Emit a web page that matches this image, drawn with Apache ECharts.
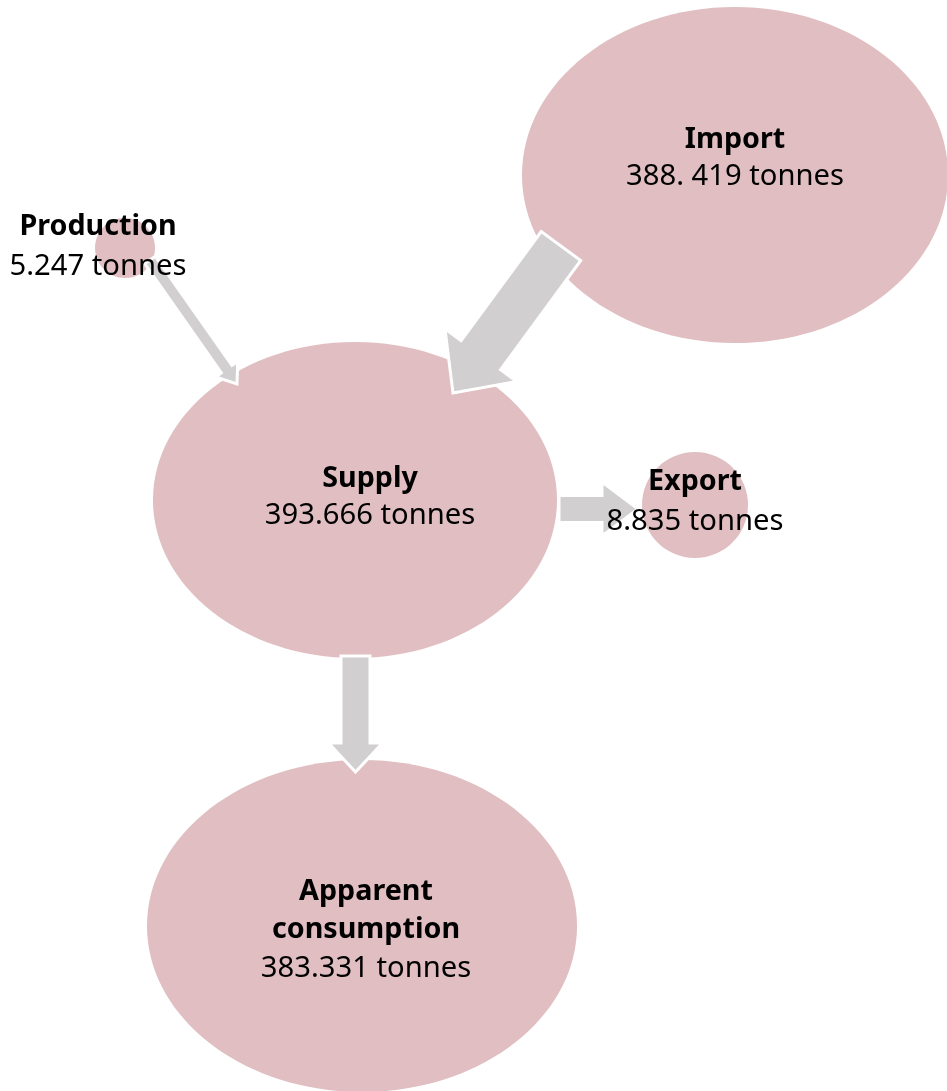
<!DOCTYPE html>
<html><head><meta charset="utf-8">
<script src="https://cdn.jsdelivr.net/npm/echarts@6/dist/echarts.min.js"></script>
<style>html,body{margin:0;padding:0;background:#fff}#c{width:947px;height:1091px}</style>
</head><body><div id="c"></div>
<script>
// ---- data ----
const nodeNames = ['Production', 'Import', 'Supply', 'Export', 'Apparent\nconsumption'];
const nodeValues = [5247, 388419, 393666, 8835, 383331];
const valueLabels = ['5.247 tonnes', '388. 419 tonnes', '393.666 tonnes', '8.835 tonnes', '383.331 tonnes'];
const flowFrom = ['Production', 'Import', 'Supply', 'Supply'];
const flowTo = ['Supply', 'Supply', 'Export', 'Apparent\nconsumption'];
const flowValues = [5247, 388419, 8835, 383331];

// ---- layout (pixel space of the 947x1091 canvas) ----
const nodeLayout = {
  'Production': {cx: 125, cy: 248, rx: 30, ry: 30, lx: 98, ly: [225], vy: 265},
  'Import': {cx: 735, cy: 175, rx: 213, ry: 168, lx: 735, ly: [137.5], vy: 175},
  'Supply': {cx: 355, cy: 500, rx: 202, ry: 158, lx: 370, ly: [476.5], vy: 514},
  'Export': {cx: 695, cy: 505, rx: 53, ry: 53, lx: 695, ly: [479.5], vy: 520},
  'Apparent\nconsumption': {cx: 362, cy: 926, rx: 215, ry: 166, lx: 366, ly: [890, 928], vy: 966.5}
};
const arrowLayout = [
  {x0: 150, y0: 260, x1: 237, y1: 384, sw: 13, hw: 27, hl: 18},
  {x0: 561, y0: 246, x1: 453, y1: 393, sw: 49, hw: 89, hl: 47},
  {x0: 559, y0: 509, x1: 638, y1: 509, sw: 27, hw: 54, hl: 36},
  {x0: 355.5, y0: 656, x1: 355.5, y1: 772, sw: 29, hw: 54, hl: 29}
];
const NODE_COLOR = '#E0BEC1';
const ARROW_COLOR = '#D1CFD0';
const FONT_FAMILY = '"Noto Sans", sans-serif';

const chart = echarts.init(document.getElementById('c'), null, {renderer: 'canvas'});

function renderNode(params, api) {
  const L = nodeLayout[nodeNames[params.dataIndex]];
  const c = api.coord([L.cx, L.cy]);
  const s = api.size([L.rx, L.ry]);
  return {type: 'ellipse', shape: {cx: c[0], cy: c[1], rx: s[0], ry: s[1]}, style: {fill: NODE_COLOR}};
}

function renderArrow(params, api) {
  const A = arrowLayout[params.dataIndex];
  const p0 = api.coord([A.x0, A.y0]);
  const p1 = api.coord([A.x1, A.y1]);
  const dx = p1[0] - p0[0], dy = p1[1] - p0[1];
  const len = Math.sqrt(dx * dx + dy * dy);
  const ux = dx / len, uy = dy / len;
  const nx = -uy, ny = ux;
  const bx = p1[0] - ux * A.hl, by = p1[1] - uy * A.hl;
  const pts = [
    [p0[0] + nx * A.sw / 2, p0[1] + ny * A.sw / 2],
    [bx + nx * A.sw / 2, by + ny * A.sw / 2],
    [bx + nx * A.hw / 2, by + ny * A.hw / 2],
    [p1[0], p1[1]],
    [bx - nx * A.hw / 2, by - ny * A.hw / 2],
    [bx - nx * A.sw / 2, by - ny * A.sw / 2],
    [p0[0] - nx * A.sw / 2, p0[1] - ny * A.sw / 2]
  ];
  return {type: 'polygon', shape: {points: pts},
    style: {fill: ARROW_COLOR, stroke: '#ffffff', lineWidth: 3, lineJoin: 'miter'}};
}

function renderLabel(params, api) {
  const name = nodeNames[params.dataIndex];
  const L = nodeLayout[name];
  const lines = name.split('\n');
  const children = lines.map((t, i) => {
    const p = api.coord([L.lx, L.ly[i]]);
    return {type: 'text', x: p[0], y: p[1] + 2,
      style: {text: t, fill: '#000', font: 'bold 28.7px ' + FONT_FAMILY,
        align: 'center', verticalAlign: 'middle', textAlign: 'center', textVerticalAlign: 'middle'}};
  });
  const pv = api.coord([L.lx, L.vy]);
  children.push({type: 'text', x: pv[0], y: pv[1] + 2,
    style: {text: valueLabels[params.dataIndex], fill: '#000', font: '29.2px ' + FONT_FAMILY,
      align: 'center', verticalAlign: 'middle', textAlign: 'center', textVerticalAlign: 'middle'}});
  return {type: 'group', children: children};
}

chart.setOption({
  animation: false,
  backgroundColor: '#ffffff',
  grid: {left: 0, right: 0, top: 0, bottom: 0},
  xAxis: {type: 'value', min: 0, max: 947, show: false},
  yAxis: {type: 'value', min: 0, max: 1091, inverse: true, show: false},
  tooltip: {show: false},
  series: [
    {type: 'custom', name: 'nodes', z: 1, silent: true, renderItem: renderNode,
      data: nodeNames.map((n, i) => ({name: n, value: [i, nodeValues[i]]}))},
    {type: 'custom', name: 'flows', z: 2, silent: true, renderItem: renderArrow,
      data: flowValues.map((v, i) => ({name: flowFrom[i] + ' > ' + flowTo[i], value: [i, v]}))},
    {type: 'custom', name: 'labels', z: 3, silent: true, renderItem: renderLabel,
      data: nodeNames.map((n, i) => ({name: n, value: [i, nodeValues[i]]}))}
  ]
});
</script>
</body></html>
